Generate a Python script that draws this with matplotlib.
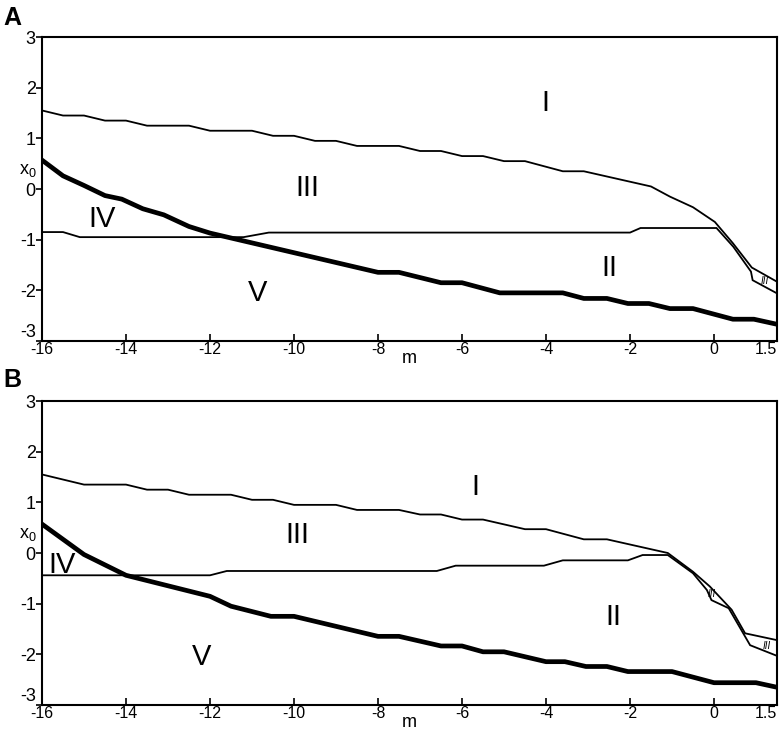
import matplotlib
matplotlib.use("Agg")
import matplotlib.pyplot as plt

plt.rcParams['font.family'] = ['Liberation Sans', 'DejaVu Sans']
plt.rcParams['mathtext.fontset'] = 'custom'
plt.rcParams['mathtext.rm'] = 'Liberation Sans'
plt.rcParams['mathtext.it'] = 'Liberation Sans'

# ---------------- Panel A data ----------------
a_top_m = [-16, -15.5, -15, -14.5, -14, -13.5, -12.5, -12, -11, -10.5, -10, -9.5, -9, -8.5,
           -7.5, -7, -6.5, -6, -5.5, -5, -4.5, -3.6, -3.1, -1.5, -1.05, -0.5, 0.02, 0.45, 0.9, 1.5]
a_top_v = [1.55, 1.45, 1.45, 1.35, 1.35, 1.25, 1.25, 1.15, 1.15, 1.05, 1.05, 0.95, 0.95, 0.85,
           0.85, 0.75, 0.75, 0.65, 0.65, 0.55, 0.55, 0.35, 0.35, 0.05, -0.15, -0.36, -0.65, -1.07, -1.55, -1.83]

a_mid_m = [-16, -15.5, -15.1, -11.2, -10.6, -2, -1.75, 0.06, 0.46, 0.88, 0.92, 1.5]
a_mid_v = [-0.85, -0.85, -0.95, -0.95, -0.86, -0.86, -0.77, -0.77, -1.14, -1.63, -1.80, -2.06]

a_thick_m = [-16, -15.5, -15, -14.5, -14.1, -13.6, -13.1, -12.5, -12, -8, -7.5, -6.5, -6, -5.1,
             -3.6, -3.1, -2.55, -2.05, -1.55, -1.05, -0.5, 0.45, 0.95, 1.5]
a_thick_v = [0.57, 0.26, 0.07, -0.13, -0.2, -0.39, -0.51, -0.74, -0.87, -1.645, -1.645, -1.85, -1.85, -2.05,
             -2.05, -2.16, -2.16, -2.26, -2.26, -2.36, -2.36, -2.57, -2.57, -2.67]

# ---------------- Panel B data ----------------
b_top_m = [-16, -15, -14, -13.5, -13, -12.5, -11.5, -11, -10.5, -10, -9, -8.5, -7.5, -7, -6.5, -6,
           -5.5, -4.5, -4, -3.1, -2.55, -1.1, -0.5, -0.1, 0.42, 0.74, 1.5]
b_top_v = [1.55, 1.35, 1.35, 1.25, 1.25, 1.15, 1.15, 1.05, 1.05, 0.95, 0.95, 0.85, 0.85, 0.76, 0.76, 0.66,
           0.66, 0.47, 0.47, 0.27, 0.27, 0.0, -0.37, -0.66, -1.12, -1.585, -1.72]

b_mid_m = [-16, -12, -11.6, -6.6, -6.15, -4.05, -3.6, -2.05, -1.7, -1.1, -0.5, -0.17, -0.06, 0.35, 0.86, 1.5]
b_mid_v = [-0.44, -0.44, -0.355, -0.355, -0.25, -0.25, -0.145, -0.145, -0.04, -0.04, -0.40, -0.73, -0.93,
           -1.09, -1.82, -2.03]

b_thick_m = [-16, -15, -14, -12, -11.5, -10.55, -10, -8, -7.5, -6.5, -6, -5.5, -5, -4, -3.55, -3.05,
             -2.55, -2.05, -1.0, 0, 1.0, 1.5]
b_thick_v = [0.57, -0.03, -0.44, -0.855, -1.05, -1.25, -1.25, -1.645, -1.645, -1.835, -1.835, -1.95, -1.95,
             -2.145, -2.145, -2.24, -2.24, -2.34, -2.34, -2.56, -2.56, -2.65]

x_ticks = [-16, -14, -12, -10, -8, -6, -4, -2, 0, 1.5]
x_tick_labels = ['-16', '-14', '-12', '-10', '-8', '-6', '-4', '-2', '0', '1.5']
y_ticks = [-3, -2, -1, 0, 1, 2, 3]

a_region_labels = [('I', -4.02, 1.70), ('III', -9.69, 0.02), ('IV', -14.57, -0.59),
                   ('V', -10.86, -2.05), ('II', -2.48, -1.56)]
b_region_labels = [('I', -5.67, 1.30), ('III', -9.93, 0.36), ('IV', -15.52, -0.24),
                   ('V', -12.19, -2.05), ('II', -2.4, -1.26)]
a_small_labels = [('III', 1.21, -1.81)]
b_small_labels = [('III', -0.05, -0.80), ('III', 1.25, -1.84)]

W, H = 781, 732
fig = plt.figure(figsize=(W / 100, H / 100), dpi=100)

def make_axes(top_px, bottom_px):
    left_px, right_px = 42, 777
    return fig.add_axes([left_px / W, 1 - bottom_px / H, (right_px - left_px) / W, (bottom_px - top_px) / H])

axA = make_axes(37, 341)
axB = make_axes(401, 705)

panels = [
    (axA, a_top_m, a_top_v, a_mid_m, a_mid_v, a_thick_m, a_thick_v, a_region_labels, a_small_labels, 'A', 18),
    (axB, b_top_m, b_top_v, b_mid_m, b_mid_v, b_thick_m, b_thick_v, b_region_labels, b_small_labels, 'B', 380),
]

for ax, tm, tv, mm, mv, km, kv, labels, small, letter, ly in panels:
    ax.plot(tm, tv, color='black', lw=1.3, solid_joinstyle='miter')
    ax.plot(mm, mv, color='black', lw=1.3, solid_joinstyle='miter')
    ax.plot(km, kv, color='black', lw=3.4, solid_joinstyle='round')
    ax.set_xlim(-16, 1.5)
    ax.set_ylim(-3, 3)
    ax.set_xticks(x_ticks)
    ax.set_xticklabels(x_tick_labels)
    ax.set_yticks(y_ticks)
    ax.set_yticklabels([str(t) for t in y_ticks])
    ax.tick_params(axis='x', direction='in', length=5, width=1.2, pad=1, labelsize=11.5)
    ax.tick_params(axis='y', direction='out', length=4, width=1.2, pad=0.5, labelsize=13)
    xt = ax.get_xticklabels()
    xt[-1].set_horizontalalignment('right')
    yt = ax.get_yticklabels()
    yt[0].set_verticalalignment('bottom')
    for s in ax.spines.values():
        s.set_linewidth(1.5)
    for txt, x, y in labels:
        ax.text(x, y, txt, fontsize=21, ha='center', va='center')
    for txt, x, y in small:
        ax.text(x, y, txt, fontsize=7, ha='center', va='center', style='italic')
    ax.set_xlabel('m', fontsize=13, labelpad=-5.5)
    ax.set_ylabel(r'$\mathrm{x_0}$', fontsize=13, rotation=0, ha='center', va='center')
    ax.yaxis.set_label_coords(-0.019, (0.36 + 3) / 6)
    fig.text(12 / W, 1 - ly / H, letter, fontsize=18, fontweight='bold', ha='center', va='center')

fig.savefig('out.png', dpi=100)
